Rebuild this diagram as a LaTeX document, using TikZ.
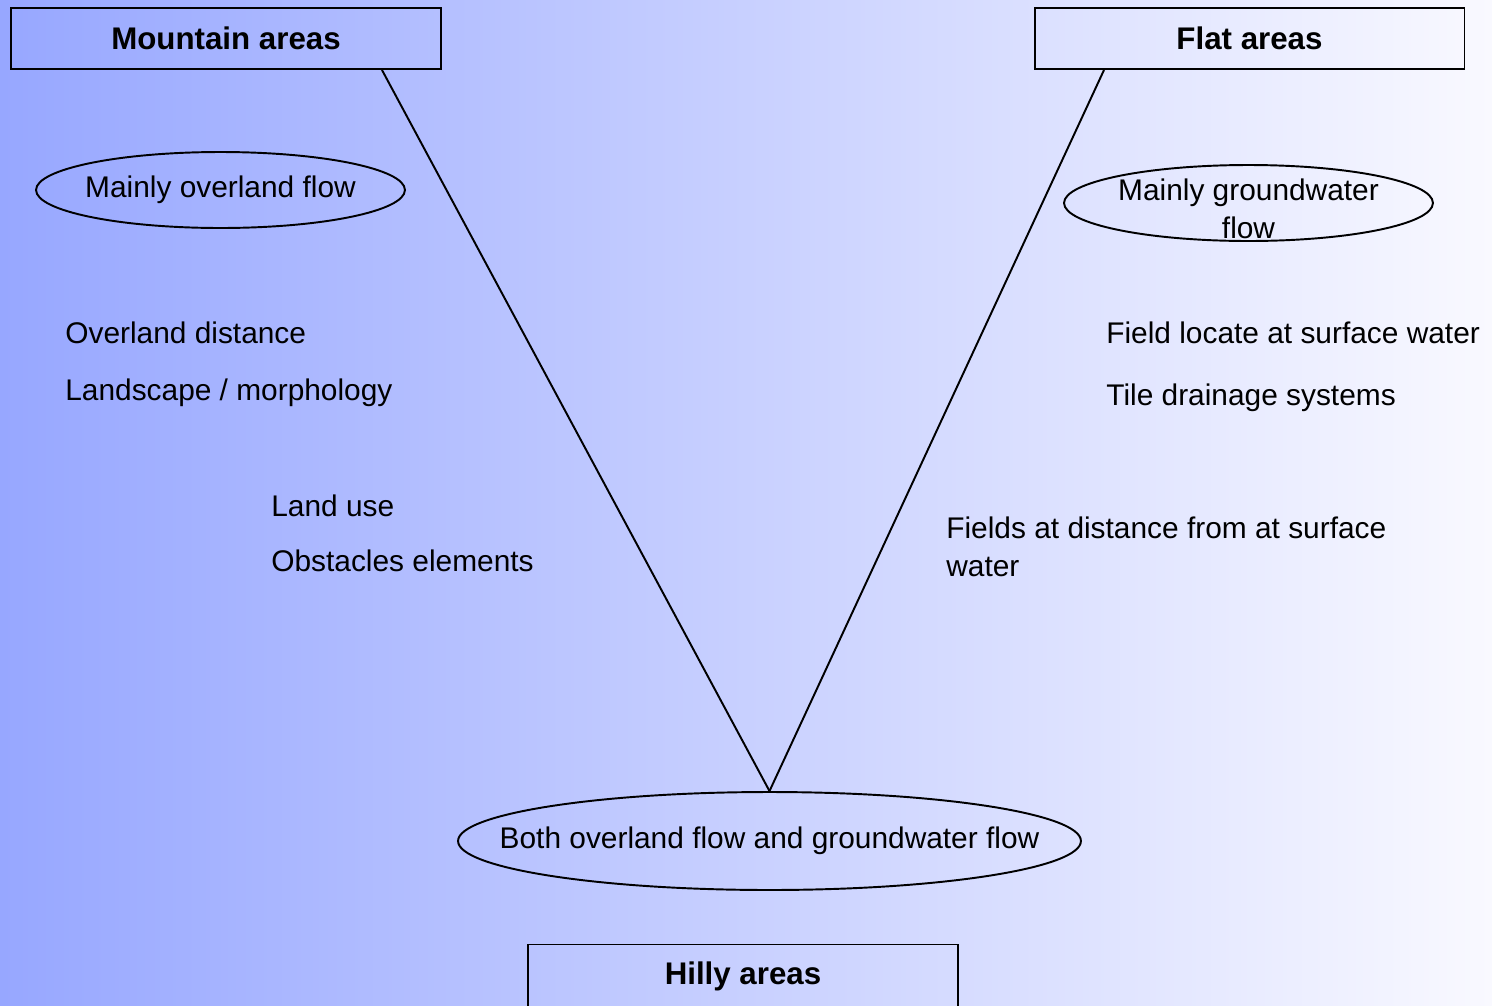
\documentclass[tikz,border=0pt]{standalone}
\usepackage{fontspec}
\setmainfont{Liberation Sans}
\usetikzlibrary{shapes.geometric}
\definecolor{bgleft}{RGB}{151,167,255}
\definecolor{bgright}{RGB}{249,249,255}

\begin{document}
\begin{tikzpicture}[x=.02cm,y=-.02cm]
	\tikzstyle{every node}=[inner sep=0pt, font=\fontsize{17pt}{21.5pt}\selectfont]
	\tikzstyle{area}=[draw, rectangle, line width=1.1pt, minimum width=8.6cm, minimum height=1.22cm, font=\fontsize{17.8pt}{21.5pt}\selectfont\bfseries]
	\tikzstyle{oval}=[draw, ellipse, line width=1.1pt]
	\tikzstyle{txt}=[anchor=base west, align=left]
	\useasboundingbox (0,0) rectangle (1492,1005);
	\shade[left color=bgleft, right color=bgright] (0,0) rectangle (1492,1005);
	% the three kinds of area
	\draw (226,38.5) node (mountain) [area] {Mountain areas};
	\draw (1249.5,38.5) node (flat) [area] {Flat areas};
	\draw (743,976) node (hilly) [area, minimum height=1.26cm] {Hilly areas};
	% the flow types
	\draw (220.5,190) node (overland) [oval, minimum width=7.38cm, minimum height=1.52cm] {\makebox[0pt]{Mainly overland flow}};
	\draw (1248.5,203) node (ground) [oval, minimum width=7.38cm, minimum height=1.52cm] {};
	\draw ([yshift=-.12cm]ground) node (groundtxt) [align=center] {Mainly groundwater\\flow};
	\draw (769.5,841) node (both) [oval, minimum width=12.46cm, minimum height=1.96cm] {\makebox[0pt]{Both overland flow and groundwater flow}};
	% the factors
	\draw (65,343) node (dist) [txt] {Overland distance};
	\draw (65,400) node (morph) [txt] {Landscape / morphology};
	\draw (271,516) node (use) [txt] {Land use};
	\draw (271,571) node (obst) [txt] {Obstacles elements};
	\draw (1106,343) node (locate) [txt] {Field locate at surface water};
	\draw (1106,405) node (tile) [txt] {Tile drainage systems};
	\draw (946,576) node (far) [txt] {Fields at distance from at surface\\water};
	\draw[line width=1.1pt] ([xshift=3.12cm]mountain.south) -- (both.north);
	\draw[line width=1.1pt] ([xshift=-2.91cm]flat.south) -- (both.north);
\end{tikzpicture}
\end{document}
